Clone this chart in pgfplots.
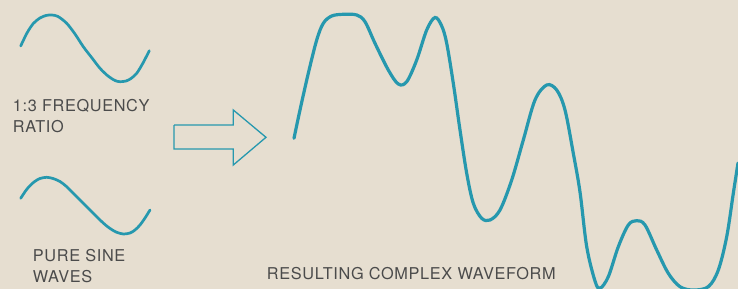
\documentclass[border=0pt]{standalone}
\usepackage{pgfplots}
\pgfplotsset{compat=1.18}
\usepackage{fontspec}
\setmainfont{TeX Gyre Heros}[LetterSpace=4]
\definecolor{bg}{RGB}{230,222,208}
\definecolor{teal}{RGB}{38,152,174}
\definecolor{txt}{RGB}{75,75,75}
\begin{document}
\begin{tikzpicture}
\begin{axis}[
  scale only axis, width=738bp, height=289bp,
  xmin=0, xmax=738, ymin=0, ymax=289, y dir=reverse,
  hide axis, clip=true,
]
\fill[bg] (axis cs:0,0) rectangle (axis cs:738,289);
% top small sine
\addplot[teal, line width=2.7bp, smooth, line cap=round] coordinates {
(20.7,46) (27,33) (33.3,23.5) (40,18) (46,15.5) (51.7,15) (58,16.5) (66.7,23.3)
(75,34) (83.3,46.7) (92,58) (100,68.3) (108,76) (115,80.5) (120,81.7) (126,81) (131,78.5) (136.7,73.3)
(143,63) (149.3,50.7)};
% bottom small sine
\addplot[teal, line width=2.7bp, smooth, line cap=round] coordinates {
(20.7,198.3) (27,189) (34,182) (40,178.5) (46.7,177.3) (53,178.5) (60,181.5) (66.7,186.7)
(75,195) (83.3,203.3) (92,212) (100,220) (108,227) (116,232) (123.3,234) (130,233) (135,230) (140,225)
(145,218) (150,210)};
% arrow
\addplot[teal, line width=1.3bp, line join=miter] coordinates {
(174,125) (233.3,125) (233.3,110) (266,137.3) (233.3,165) (233.3,149) (174,149) (174,125)};
% complex waveform
\addplot[teal, line width=3.2bp, smooth, tension=0.55, line cap=round] coordinates {
(294,138.3) (300,110) (308.3,73.3) (316.7,40) (323.3,23.3) (331.7,16) (343.3,14.3) (356.7,15)
(365,21.7) (375,43.3) (388.3,70) (398.3,84) (406.7,81.7) (416.7,60) (426.7,30) (435,17.5)
(441.7,26) (446.7,43.3) (453.3,83.3) (460,130) (466.7,173.3) (473.3,203.3) (481.7,218.3)
(490,220) (500,210) (511.7,180) (523.3,140) (535,100) (546.7,85) (556.7,90) (565,110)
(573.3,153.3) (580,192) (586.7,246.7) (595,281) (600,288.3) (608.3,276.7) (618.3,246.7)
(628.3,225) (636.7,220.7) (645,225) (656.7,250) (668.3,273.3) (680,286.7) (693.3,290)
(708.3,286.7) (718.3,270) (726.7,236.7) (733.3,193.3) (738,163)};
% texts
\tikzset{lbl/.style={anchor=base west, inner sep=0pt, text=txt, font=\fontsize{16.3bp}{21bp}\selectfont}}
\node[lbl] at (axis cs:12.7,111.7) {1:3 FREQUENCY};
\node[lbl] at (axis cs:12.7,132.7) {RATIO};
\node[lbl] at (axis cs:32.7,261) {PURE SINE};
\node[lbl] at (axis cs:32.7,282.7) {WAVES};
\node[lbl] at (axis cs:266.7,279) {RESULTING COMPLEX WAVEFORM};
\end{axis}
\end{tikzpicture}
\end{document}
